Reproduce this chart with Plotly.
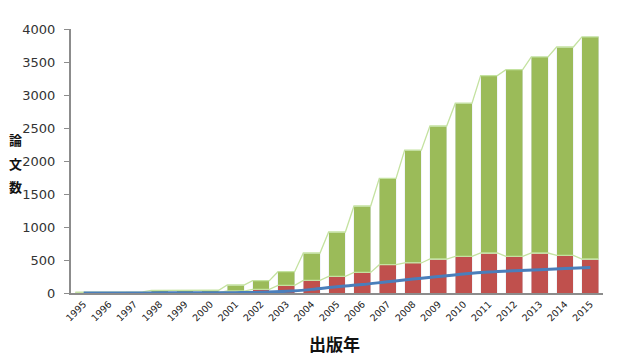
import plotly.graph_objects as go

years = list(range(1995, 2016))
totals = [12, 14, 16, 40, 40, 42, 121, 186, 323, 606, 924, 1318, 1736, 2165, 2530, 2876, 3295, 3383, 3578, 3727, 3882]
red_vals = [2, 2, 3, 5, 5, 6, 30, 55, 115, 191, 252, 312, 429, 455, 515, 555, 606, 555, 606, 570, 515]
blue_vals = [1, 1, 1, 2, 2, 3, 5, 10, 25, 55, 95, 128, 171, 212, 250, 288, 318, 338, 353, 373, 388]
green_vals = [t - r for t, r in zip(totals, red_vals)]

BAR_W = 0.66
GREEN = "#9BBB59"
RED = "#C0504D"
BLUE = "#4A7EBB"
SERIES_LINE = "#C4E2A0"

def series_path(vals):
    xs, ys = [], []
    for yr, v in zip(years, vals):
        xs += [yr - BAR_W / 2, yr + BAR_W / 2]
        ys += [v, v]
    return xs, ys

fig = go.Figure()
fig.add_trace(go.Bar(x=years, y=red_vals, marker_color=RED, width=BAR_W, showlegend=False))
fig.add_trace(go.Bar(x=years, y=green_vals, marker_color=GREEN, width=BAR_W, showlegend=False))

sx, sy = series_path(totals)
fig.add_trace(go.Scatter(x=sx, y=sy, mode="lines", line=dict(color=SERIES_LINE, width=1.3), showlegend=False))
sx, sy = series_path(red_vals)
fig.add_trace(go.Scatter(x=sx, y=sy, mode="lines", line=dict(color=SERIES_LINE, width=1.3), showlegend=False))

fig.add_trace(go.Scatter(x=years, y=blue_vals, mode="lines", line=dict(color=BLUE, width=3, shape="spline"), showlegend=False))

fig.update_layout(
    barmode="stack",
    width=627, height=347,
    margin=dict(l=63, r=32, t=21, b=62),
    paper_bgcolor="white", plot_bgcolor="white",
    font=dict(family="DejaVu Sans", color="#333333"),
)
fig.update_xaxes(
    range=[1994.5, 2015.5], tickmode="array", tickvals=years, ticktext=[str(y) for y in years],
    tickangle=-45, tickfont=dict(size=9.5, color="#222222"),
    showline=True, linecolor="#8C8C8C", linewidth=2, showgrid=False, zeroline=False, ticks="",
    automargin=False,
)
fig.update_yaxes(
    range=[0, 4000], tickvals=[0, 500, 1000, 1500, 2000, 2500, 3000, 3500, 4000],
    tickfont=dict(size=13, color="#333333"),
    showline=True, linecolor="#8C8C8C", linewidth=2, showgrid=False, zeroline=False,
    ticks="outside", ticklen=5, tickcolor="#8C8C8C", tickwidth=1, ticklabelstandoff=6,
    automargin=False,
)

for i, (ch, yp) in enumerate(zip(["論", "文", "数"], [0.58, 0.492, 0.402])):
    fig.add_annotation(text="<b>%s</b>" % ch, xref="paper", yref="paper", x=-0.104, y=yp,
                       xanchor="center", yanchor="middle", showarrow=False, borderpad=0,
                       font=dict(family="Noto Sans CJK JP", size=13, color="#111111"))

fig.add_annotation(text="<b>出版年</b>", xref="paper", yref="paper", x=0.495, y=-0.19,
                   xanchor="center", yanchor="middle", showarrow=False,
                   font=dict(family="Noto Sans CJK JP", size=17, color="#111111"))

fig.write_html("out.html")
